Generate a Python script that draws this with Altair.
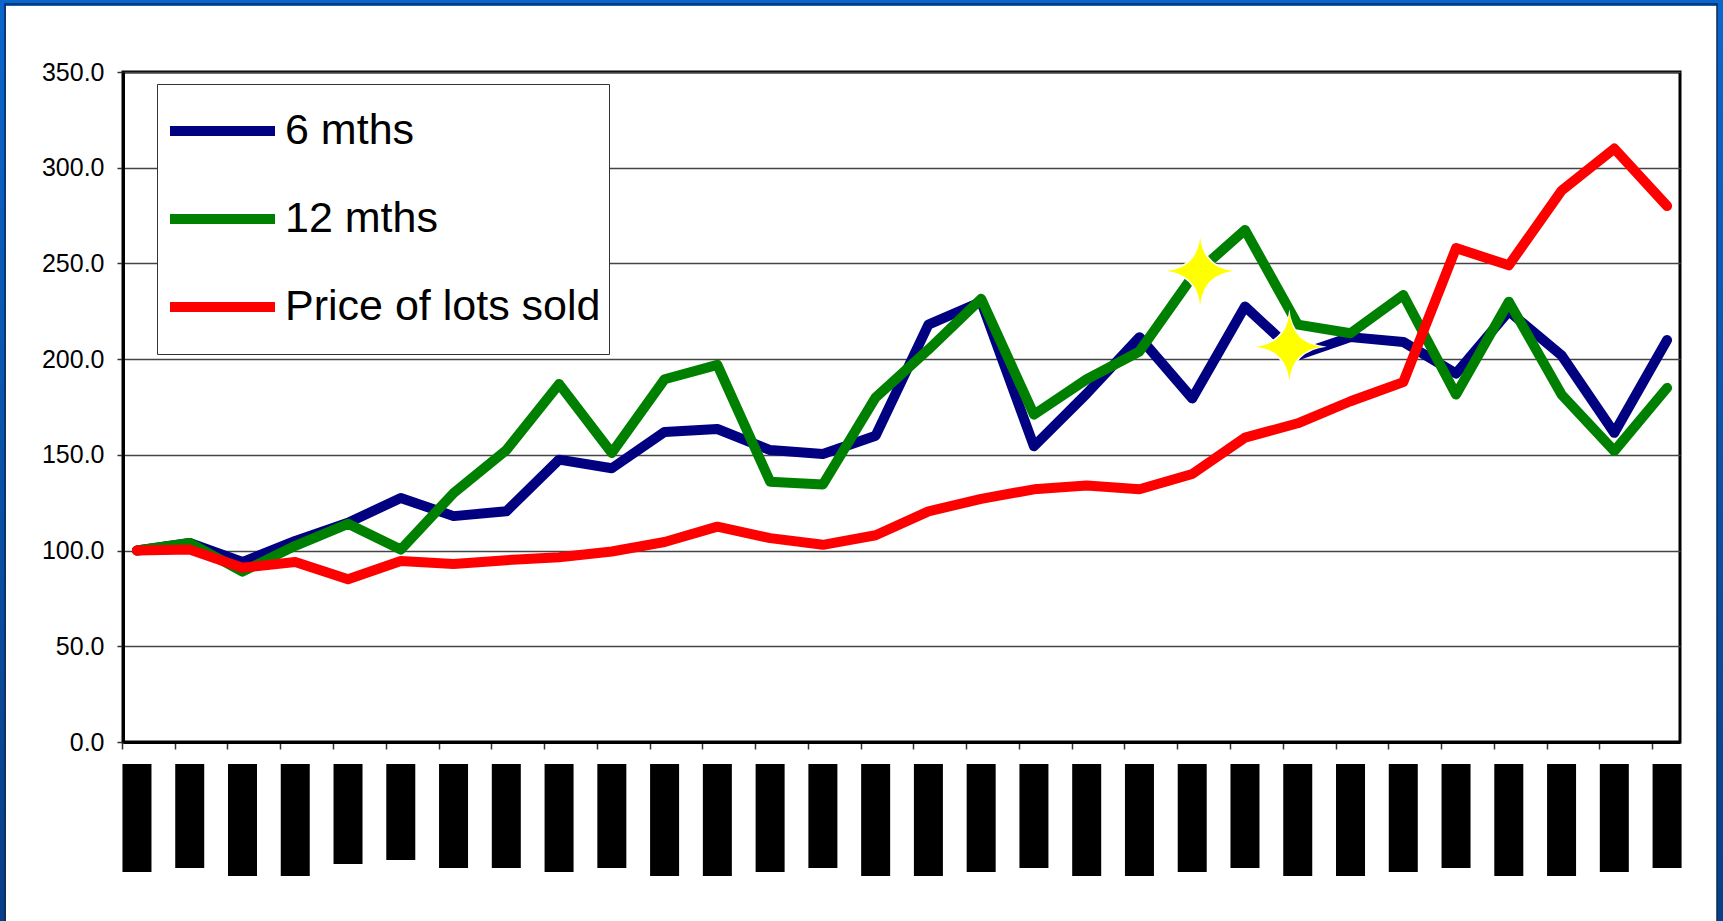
import altair as alt
import pandas as pd

# ---- data ----
idx = list(range(30))
six_mths = [100, 104, 94, 105, 114.5, 127.5, 118, 120.5, 147.5, 143,
            162, 163.5, 152.5, 150.5, 160, 218, 230, 154.5, 182, 211.5,
            179.5, 227.5, 202, 211.5, 209, 192.5, 225, 202, 161.5, 210]
twelve_mths = [100, 104, 89, 102.5, 114, 100.5, 130, 152.5, 187, 151,
               189.5, 197, 136, 134.5, 180, 205, 231.5, 171, 189.5, 204,
               243, 267.5, 218, 213.5, 233.5, 181.5, 230, 181.5, 152, 185]
price_sold = [100, 100.5, 91, 94, 85, 94.5, 93, 95, 96.5, 99.5,
              104.5, 112.5, 106.5, 103, 108, 120.5, 127, 132, 134, 132,
              140, 159, 166.5, 178, 188, 258, 249, 288, 310, 280]
series_names = ["6 mths", "12 mths", "Price of lots sold"]
series_colors = ["#000080", "#008000", "#ff0000"]
y_ticks = [0, 50, 100, 150, 200, 250, 300, 350]
# redacted (blacked-out) category labels: their lengths
label_len = [108, 104, 112, 112, 100, 96, 104, 104, 108, 104,
             112, 112, 108, 104, 112, 112, 108, 104, 112, 112,
             108, 104, 112, 112, 108, 104, 112, 112, 108, 104]
# decorative sparkle stars
star_idx = [20.15, 21.84]
star_val = [246, 206.5]

FONT = "Liberation Sans, Arial, Helvetica, sans-serif"
STAR = ("M0,-1 Q0.1,-0.1 1,0 Q0.1,0.1 0,1 Q-0.1,0.1 -1,0 "
        "Q-0.1,-0.1 0,-1 Z")

rows = []
for name, vals in zip(series_names, [six_mths, twelve_mths, price_sold]):
    for i, v in zip(idx, vals):
        rows.append({"idx": i, "value": v, "series": name})
lines_df = pd.DataFrame(rows)
stars_df = pd.DataFrame({"sx": star_idx, "sy": star_val})
blocks_df = pd.DataFrame({"idx": idx, "len": label_len})

W, H = 1557, 670
PAD = {"left": 123, "top": 72, "right": 43, "bottom": 179}


def mkx(field):
    return alt.X(
        f"{field}:Q",
        scale=alt.Scale(domain=[-0.17, 29.15], nice=False, zero=False),
        axis=alt.Axis(values=idx, labels=False, title=None, grid=False,
                      tickSize=7, tickOffset=-15, tickColor="#333",
                      tickWidth=1.5, domainColor="black", domainWidth=3),
    )


def mky(field):
    return alt.Y(
        f"{field}:Q",
        scale=alt.Scale(domain=[0, 350], nice=False, zero=True),
        axis=alt.Axis(values=y_ticks, format=".1f", title=None, grid=True,
                      gridColor="#444", gridWidth=1.5, tickSize=6,
                      tickColor="#333", tickWidth=1.5,
                      labelFont=FONT, labelFontSize=25, labelColor="black",
                      labelPadding=13, domainColor="black", domainWidth=3),
    )


one = alt.Data(values=[{"k": 0}])
blue_grad = alt.LinearGradient(
    gradient="linear",
    stops=[alt.GradientStop(color="#0b66cc", offset=0),
           alt.GradientStop(color="#083e84", offset=1)],
    x1=0, x2=0, y1=0, y2=1,
)

frame_outer = alt.Chart(one).mark_rect(
    fillOpacity=0, stroke=blue_grad, strokeWidth=12
).encode(
    x=alt.value(-PAD["left"]), x2=alt.value(W + PAD["right"]),
    y=alt.value(-PAD["top"]), y2=alt.value(H + PAD["bottom"] + 30),
)
frame_inner = alt.Chart(one).mark_rect(
    fillOpacity=0, stroke="#0c2a58", strokeWidth=1.5
).encode(
    x=alt.value(-PAD["left"] + 5), x2=alt.value(W + PAD["right"] - 6),
    y=alt.value(-PAD["top"] + 4), y2=alt.value(H + PAD["bottom"] + 30),
)

lines = alt.Chart(lines_df).mark_line(
    strokeWidth=10, strokeCap="round", strokeJoin="round"
).encode(
    x=mkx("idx"),
    y=mky("value"),
    color=alt.Color(
        "series:N",
        scale=alt.Scale(domain=series_names, range=series_colors),
        legend=alt.Legend(
            title=None, orient="none", legendX=34, legendY=12,
            symbolType="stroke", symbolSize=11025, symbolStrokeWidth=10,
            labelFont=FONT, labelFontSize=43, labelColor="black",
            labelOffset=5, padding=8, rowPadding=10, clipHeight=78,
            strokeColor="#333", fillColor="white", labelLimit=700,
        ),
    ),
)

star_halo = alt.Chart(stars_df).mark_point(
    shape=STAR, filled=True, size=5600, fill="white", opacity=1,
    fillOpacity=1, strokeWidth=0,
).encode(x=mkx("sx"), y=mky("sy"))

stars = alt.Chart(stars_df).mark_point(
    shape=STAR, filled=True, size=4500, fill="#ffff00", opacity=1,
    fillOpacity=1, strokeWidth=0,
).encode(x=mkx("sx"), y=mky("sy"))

main = alt.layer(frame_outer, frame_inner, lines, star_halo, stars)

blocks = alt.Chart(blocks_df).mark_bar(
    size=29, color="black", orient="vertical"
).encode(
    x=mkx("idx"),
    y=alt.Y("len:Q", scale=alt.Scale(domain=[0, 100], range=[692, 792],
                                     nice=False, zero=True), axis=None),
)

chart = alt.layer(main, blocks).resolve_scale(y="independent").properties(
    width=W, height=H,
    autosize=alt.AutoSizeParams(type="none"),
    padding=PAD,
    background="white",
).configure_view(stroke="black", strokeWidth=3)

chart.save("out.html", embed_options={"renderer": "svg", "actions": False})
